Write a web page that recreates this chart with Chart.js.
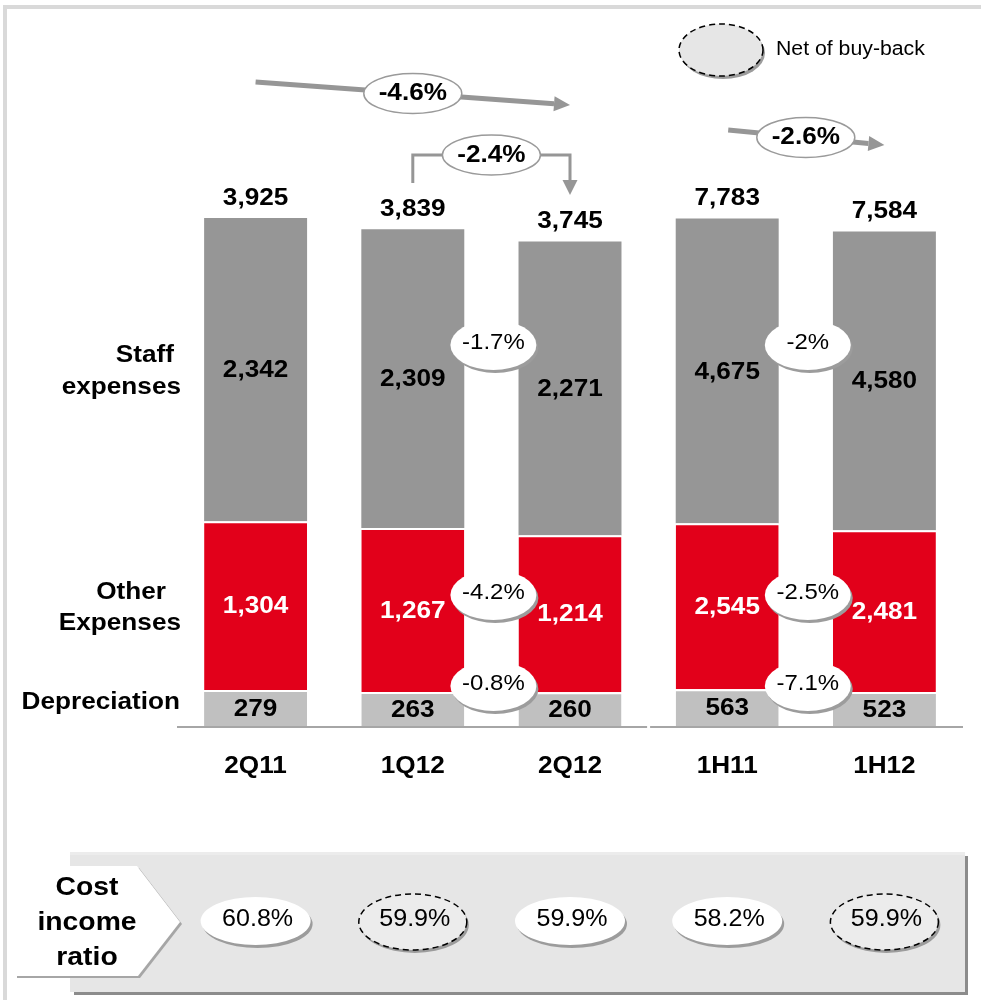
<!DOCTYPE html>
<html>
<head>
<meta charset="utf-8">
<script src="https://cdn.jsdelivr.net/npm/chart.js@4.4.0/dist/chart.umd.min.js"></script>
<style>
  html, body { margin: 0; padding: 0; background: #fff; }
  #wrap { width: 981px; height: 1000px; position: relative; }
</style>
</head>
<body>
<div id="wrap"><canvas id="costChart" width="981" height="1000"></canvas></div>
<script>
// data (EUR m)
const categories = ['2Q11', '1Q12', '2Q12', '1H11', '1H12'];
const isHalfYear = [false, false, false, true, true];
const depreciation = [279, 263, 260, 563, 523];
const otherExpenses = [1304, 1267, 1214, 2545, 2481];
const staffExpenses = [2342, 2309, 2271, 4675, 4580];
const totalCosts = [3925, 3839, 3745, 7783, 7584];

// % changes: 2Q12 vs 1Q12 and 1H12 vs 1H11
const staffChange = [-1.7, -2];
const otherChange = [-4.2, -2.5];
const depChange = [-0.8, -7.1];
// total: 2Q12 vs 2Q11, 2Q12 vs 1Q12, 1H12 vs 1H11
const totalChange = [-4.6, -2.4, -2.6];

const costIncomeRatio = [60.8, 59.9, 59.9, 58.2, 59.9];
const netOfBuyBack = [false, true, false, false, true];

const FONT = '"Liberation Sans", Arial, sans-serif';
const SX = 1.09; // slide text is a bit wide

function pick(arr, half) {
    return arr.map((v, i) => isHalfYear[i] === half ? v : null);
}

const series = [
    { label: 'Depreciation', data: depreciation, color: '#c0c0c0', text: '#000', sep: 2 },
    { label: 'Other Expenses', data: otherExpenses, color: '#e2001a', text: '#fff', sep: 2 },
    { label: 'Staff expenses', data: staffExpenses, color: '#969696', text: '#000', sep: 0 }
];

let datasets = [];
series.forEach(s => {
    [false, true].forEach(half => {
        datasets.push({
            label: s.label,
            data: pick(s.data, half),
            backgroundColor: s.color,
            borderColor: '#ffffff',
            borderWidth: { top: s.sep, right: 0, bottom: 0, left: 0 },
            borderSkipped: 'bottom',
            yAxisID: half ? 'y2' : 'y',
            stack: 'all',
            barPercentage: 0.655,
            categoryPercentage: 1,
            textColor: s.text,
            series: s.label
        });
    });
});

function txt(ctx, s, x, y, size, bold, color, align) {
    ctx.save();
    ctx.font = (bold ? 'bold ' : '') + size + 'px ' + FONT;
    ctx.fillStyle = color || '#000';
    ctx.textAlign = align || 'center';
    ctx.textBaseline = 'middle';
    ctx.translate(x, y);
    ctx.scale(SX, 1);
    ctx.fillText(s, 0, 0);
    ctx.restore();
}

function bubble(ctx, x, y, rx, ry, st) {
    ctx.save();
    if (st.shadow) {
        ctx.beginPath();
        ctx.ellipse(x + 2, y + 3, rx, ry, 0, 0, Math.PI * 2);
        ctx.fillStyle = '#9c9c9c';
        ctx.fill();
    }
    ctx.beginPath();
    ctx.ellipse(x, y, rx, ry, 0, 0, Math.PI * 2);
    ctx.fillStyle = st.fill;
    ctx.fill();
    if (st.stroke) {
        ctx.lineWidth = st.lw || 1.5;
        ctx.strokeStyle = st.stroke;
        ctx.setLineDash(st.dash || []);
        ctx.stroke();
    }
    ctx.restore();
}

// polyline, last point is the arrow tip
function arrow(ctx, pts, lw, headLen, headW) {
    const n = pts.length;
    const [tx, ty] = pts[n - 1];
    const [px, py] = pts[n - 2];
    const d = Math.hypot(tx - px, ty - py);
    const ux = (tx - px) / d, uy = (ty - py) / d;
    const bx = tx - ux * headLen, by = ty - uy * headLen;
    ctx.save();
    ctx.strokeStyle = '#969696';
    ctx.fillStyle = '#969696';
    ctx.lineWidth = lw;
    ctx.lineJoin = 'miter';
    ctx.beginPath();
    ctx.moveTo(pts[0][0], pts[0][1]);
    for (let i = 1; i < n - 1; i++) ctx.lineTo(pts[i][0], pts[i][1]);
    ctx.lineTo(bx, by);
    ctx.stroke();
    ctx.beginPath();
    ctx.moveTo(tx, ty);
    ctx.lineTo(bx - uy * headW, by + ux * headW);
    ctx.lineTo(bx + uy * headW, by - ux * headW);
    ctx.closePath();
    ctx.fill();
    ctx.restore();
}

const fmtNum = v => v.toLocaleString('en-US');
const fmtPct = v => v + '%';

const slidePlugin = {
    id: 'slide',
    beforeDraw(chart) {
        const ctx = chart.ctx;
        ctx.save();
        ctx.fillStyle = '#fff';
        ctx.fillRect(0, 0, chart.width, chart.height);
        // outer frame
        ctx.fillStyle = '#d9d9d9';
        ctx.fillRect(3, 5, chart.width - 3, 4);
        ctx.fillRect(3, 5, 4, chart.height - 5);
        ctx.restore();
    },
    afterDatasetsDraw(chart) {
        const ctx = chart.ctx;
        const x = chart.scales.x;
        const area = chart.chartArea;
        const cx = i => x.getPixelForValue(i);

        // baseline, split between quarters and halves
        const gap = (cx(2) + cx(3)) / 2;
        ctx.save();
        ctx.fillStyle = '#a6a6a6';
        ctx.fillRect(area.left, area.bottom, gap - 1.5 - area.left, 2);
        ctx.fillRect(gap + 1.5, area.bottom, area.right - gap - 1.5, 2);
        ctx.restore();

        // change bubbles between compared bars
        const pairs = [[1, 2], [3, 4]];
        const rows = [
            { vals: staffChange, y: 345 },
            { vals: otherChange, y: 595 },
            { vals: depChange, y: 686 }
        ];
        rows.forEach(r => {
            pairs.forEach((p, k) => {
                const bx = (cx(p[0]) + cx(p[1])) / 2 + 2;
                bubble(ctx, bx, r.y, 43, 25, { fill: '#fff', shadow: true });
                txt(ctx, fmtPct(r.vals[k]), bx, r.y - 2, 22, false, '#000');
            });
        });

        // segment values
        chart.data.datasets.forEach((ds, di) => {
            const meta = chart.getDatasetMeta(di);
            meta.data.forEach((el, i) => {
                if (ds.data[i] == null) return;
                txt(ctx, fmtNum(ds.data[i]), el.x, (el.y + el.base) / 2 + 1, 24, true, ds.textColor);
            });
        });

        // totals on top
        chart.data.datasets.forEach((ds, di) => {
            if (ds.series !== 'Staff expenses') return;
            const meta = chart.getDatasetMeta(di);
            meta.data.forEach((el, i) => {
                if (ds.data[i] == null) return;
                txt(ctx, fmtNum(totalCosts[i]), el.x, el.y - 20, 24, true, '#000');
            });
        });

        // category labels
        chart.data.labels.forEach((l, i) => txt(ctx, l, cx(i), 766, 24, true, '#000'));

        // series names on the left
        txt(ctx, 'Staff', 174, 355, 24, true, '#000', 'right');
        txt(ctx, 'expenses', 181, 387, 24, true, '#000', 'right');
        txt(ctx, 'Other', 166, 592, 24, true, '#000', 'right');
        txt(ctx, 'Expenses', 181, 623, 24, true, '#000', 'right');
        txt(ctx, 'Depreciation', 180, 702, 24, true, '#000', 'right');
    },
    afterDraw(chart) {
        const ctx = chart.ctx;
        const x = chart.scales.x;
        const cx = i => x.getPixelForValue(i);

        // total change arrows
        const y0 = 82, y1 = 105;
        arrow(ctx, [[cx(0), y0], [cx(2), y1]], 5, 16, 7.5);
        const my = y0 + (y1 - y0) * (cx(1) - cx(0)) / (cx(2) - cx(0));
        bubble(ctx, cx(1), my, 49, 20, { fill: '#fff', stroke: '#9a9a9a', lw: 1.5 });
        txt(ctx, fmtPct(totalChange[0]), cx(1), my, 24, true, '#000');

        arrow(ctx, [[cx(1), 183], [cx(1), 155], [cx(2), 155], [cx(2), 195]], 3, 15, 7.5);
        const bx2 = (cx(1) + cx(2)) / 2;
        bubble(ctx, bx2, 155, 49, 20, { fill: '#fff', stroke: '#9a9a9a', lw: 1.5 });
        txt(ctx, fmtPct(totalChange[1]), bx2, 155, 24, true, '#000');

        const hx0 = cx(3) + 1, hx1 = cx(4);
        arrow(ctx, [[hx0, 130], [hx1, 145]], 5, 16, 7.5);
        const bx3 = (cx(3) + cx(4)) / 2;
        const hy = 130 + 15 * (bx3 - hx0) / (hx1 - hx0);
        bubble(ctx, bx3, hy, 49, 20, { fill: '#fff', stroke: '#9a9a9a', lw: 1.5 });
        txt(ctx, fmtPct(totalChange[2]), bx3, hy, 24, true, '#000');

        // legend
        bubble(ctx, 721, 50, 42, 26, { fill: '#e6e6e6', shadow: true, stroke: '#000', lw: 1.5, dash: [6, 4] });
        txt(ctx, 'Net of buy-back', 776, 50, 19.5, false, '#000', 'left');

        // cost income panel
        ctx.save();
        ctx.fillStyle = '#8c8c8c';
        ctx.fillRect(74, 856, 894, 139);
        ctx.fillStyle = '#e6e6e6';
        ctx.fillRect(70, 852, 895, 140);
        ctx.fillStyle = '#ececec';
        ctx.fillRect(70, 852, 895, 3);
        // pentagon
        const pent = (dx, dy) => {
            ctx.beginPath();
            ctx.moveTo(15 + dx, 866 + dy);
            ctx.lineTo(137 + dx, 866 + dy);
            ctx.lineTo(180 + dx, 922 + dy);
            ctx.lineTo(138 + dx, 976 + dy);
            ctx.lineTo(15 + dx, 976 + dy);
            ctx.closePath();
        };
        pent(2, 2);
        ctx.fillStyle = '#a6a6a6';
        ctx.fill();
        pent(0, 0);
        ctx.fillStyle = '#fff';
        ctx.fill();
        ctx.restore();
        txt(ctx, 'Cost', 87, 888, 26, true, '#000');
        txt(ctx, 'income', 87, 923, 26, true, '#000');
        txt(ctx, 'ratio', 87, 958, 26, true, '#000');

        costIncomeRatio.forEach((v, i) => {
            const px = cx(i);
            if (netOfBuyBack[i]) {
                bubble(ctx, px, 922, 54, 28, { fill: '#ececec', shadow: true, stroke: '#000', lw: 1.5, dash: [6, 4] });
            } else {
                bubble(ctx, px, 921, 55, 24, { fill: '#fff', shadow: true });
            }
            txt(ctx, fmtPct(v), px + 2, 920, 23, false, '#000');
        });
    }
};

const cvs = document.getElementById('costChart');
const chart = new Chart(cvs.getContext('2d'), {
    type: 'bar',
    data: { labels: categories, datasets: datasets },
    options: {
        responsive: false,
        animation: false,
        events: [],
        layout: { padding: { top: 27, bottom: 274, left: 177, right: 18 } },
        plugins: { legend: { display: false }, tooltip: { enabled: false } },
        scales: {
            x: { display: false, stacked: true },
            y: { display: false, stacked: true, min: 0, max: 5402 },
            y2: { display: false, stacked: true, min: 0, max: 10721 }
        }
    },
    plugins: [slidePlugin]
});
</script>
</body>
</html>
